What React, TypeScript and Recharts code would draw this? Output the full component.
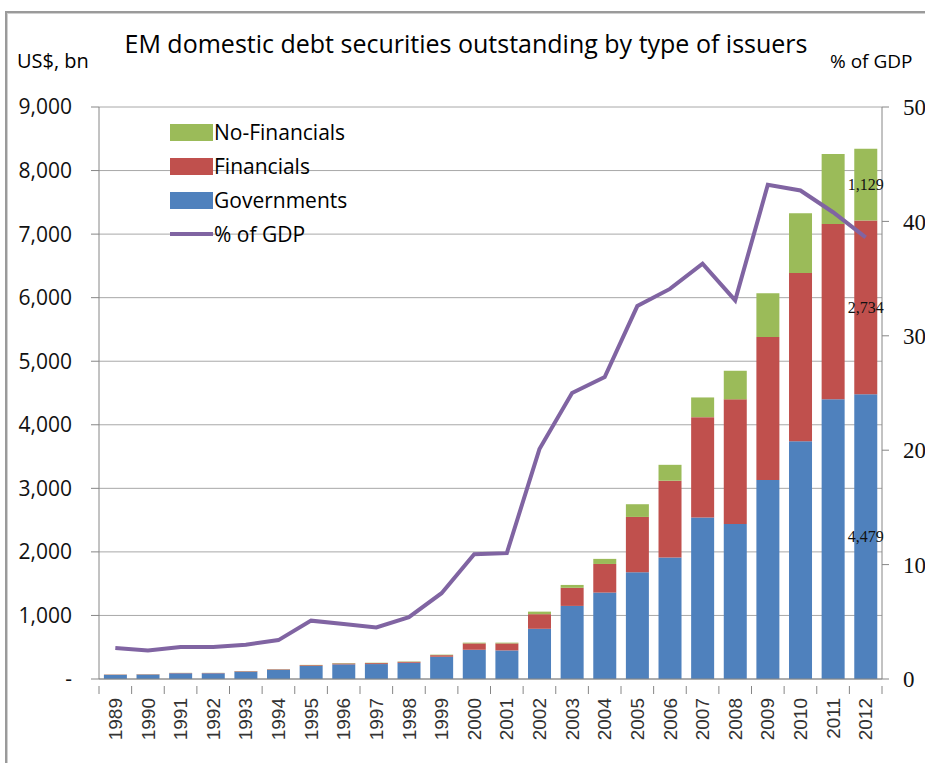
import React from 'react';
import {
  ComposedChart,
  Bar,
  Line,
  XAxis,
  YAxis,
  CartesianGrid,
  LabelList,
} from 'recharts';

// values (US$ bn and % of GDP)
const years = [
  '1989', '1990', '1991', '1992', '1993', '1994', '1995', '1996', '1997', '1998', '1999', '2000',
  '2001', '2002', '2003', '2004', '2005', '2006', '2007', '2008', '2009', '2010', '2011', '2012',
];
const governments = [
  65, 70, 90, 90, 115, 145, 205, 230, 235, 255, 350, 460,
  450, 790, 1150, 1360, 1680, 1910, 2540, 2440, 3130, 3740, 4400, 4479,
];
const financials = [
  5, 5, 5, 5, 8, 8, 12, 15, 15, 15, 25, 100,
  110, 230, 285, 450, 870, 1210, 1580, 1960, 2250, 2650, 2760, 2734,
];
const nonFinancials = [
  2, 2, 2, 2, 3, 3, 5, 6, 6, 6, 8, 12,
  12, 40, 45, 80, 200, 250, 310, 450, 690, 940, 1100, 1129,
];
const pctOfGdp = [
  2.7, 2.5, 2.8, 2.8, 3.0, 3.4, 5.1, 4.8, 4.5, 5.4, 7.5, 10.9,
  11.0, 20.1, 25.0, 26.4, 32.6, 34.1, 36.3, 33.1, 43.2, 42.7, 40.8, 38.6,
];
const leftTicks = [0, 1000, 2000, 3000, 4000, 5000, 6000, 7000, 8000, 9000];
const rightTicks = [0, 10, 20, 30, 40, 50];

const chartData = years.map((year, i) => ({
  year,
  gov: governments[i],
  fin: financials[i],
  nonfin: nonFinancials[i],
  pct: pctOfGdp[i],
}));

const BLUE = '#4f81bd';
const RED = '#c0504d';
const GREEN = '#9bbb59';
const PURPLE = '#8064a2';
const SANS = '"Open Sans", "Noto Sans", sans-serif';
const SERIF = '"Liberation Serif", "DejaVu Serif", serif';

const legendItems = [
  { label: 'No-Financials', color: GREEN, kind: 'box' },
  { label: 'Financials', color: RED, kind: 'box' },
  { label: 'Governments', color: BLUE, kind: 'box' },
  { label: '% of GDP', color: PURPLE, kind: 'line' },
];

const LegendBox = () => (
  <div style={{ fontFamily: SANS, fontSize: 21, color: '#000', lineHeight: '24px' }}>
    {legendItems.map((item) => (
      <div key={item.label} style={{ display: 'flex', alignItems: 'center', height: 34 }}>
        {item.kind === 'box' ? (
          <div style={{ width: 43, height: 17, background: item.color }} />
        ) : (
          <div style={{ width: 43, height: 4, background: item.color }} />
        )}
        <span style={{ marginLeft: 1 }}>{item.label}</span>
      </div>
    ))}
  </div>
);

const YearTick = (props: any) => {
  const { x, y, payload, index } = props;
  const half = payload.offset || 16.3;
  return (
    <g>
      <line x1={x + half} y1={y - 1} x2={x + half} y2={y + 7} stroke="#868686" />
      {index === 0 && <line x1={x - half} y1={y - 1} x2={x - half} y2={y + 7} stroke="#868686" />}
      <text
        transform={`translate(${x},${y + 11}) rotate(-90)`}
        textAnchor="end"
        dy="0.35em"
        fontFamily='"Liberation Sans", Arial, sans-serif'
        fontSize={19}
        fill="#333"
      >
        {payload.value}
      </text>
    </g>
  );
};

// only the last year carries data labels
const lastLabel = (props: any) => {
  const { x, y, width, height, value, index } = props;
  if (index !== years.length - 1) return null;
  return (
    <text
      x={x + width / 2}
      y={y + height / 2}
      textAnchor="middle"
      dominantBaseline="central"
      fontFamily={SERIF}
      fontSize={16}
      fill="#111"
    >
      {Number(value).toLocaleString('en-US')}
    </text>
  );
};

const App: React.FC = () => {
  return (
    <div
      style={{
        position: 'absolute',
        left: 0,
        top: 0,
        width: 925,
        height: 763,
        overflow: 'hidden',
        background: '#fff',
      }}
    >
      <div
        style={{
          position: 'absolute',
          left: 5,
          top: 11,
          width: 1000,
          height: 1000,
          border: '2px solid #9a9a9a',
          boxShadow: 'inset 1px 1px 0 #d0d0d0',
        }}
      />
      <div
        style={{
          position: 'absolute',
          left: 0,
          width: 932,
          top: 26,
          textAlign: 'center',
          fontFamily: SANS,
          fontSize: 25,
          color: '#000',
          whiteSpace: 'nowrap',
        }}
      >
        EM domestic debt securities outstanding by type of issuers
      </div>
      <div
        style={{ position: 'absolute', left: 17, top: 47, fontFamily: SANS, fontSize: 20, color: '#000' }}
      >
        US$, bn
      </div>
      <div
        style={{
          position: 'absolute',
          left: 830,
          top: 48,
          fontFamily: SANS,
          fontSize: 19,
          color: '#000',
          whiteSpace: 'nowrap',
        }}
      >
        % of GDP
      </div>
      <div style={{ position: 'absolute', left: 0, top: 0 }}>
        <ComposedChart
          width={960}
          height={763}
          data={chartData}
          margin={{ top: 107, right: 18, bottom: 0, left: 0 }}
          barCategoryGap="15%"
        >
          <CartesianGrid vertical={false} stroke="#a8a8a8" yAxisId="left" />
          <XAxis
            dataKey="year"
            interval={0}
            height={84}
            tickLine={false}
            axisLine={{ stroke: '#868686' }}
            tick={<YearTick />}
          />
          <YAxis
            yAxisId="left"
            width={99}
            domain={[0, 9000]}
            ticks={leftTicks}
            tickSize={8}
            tickMargin={19}
            axisLine={{ stroke: '#868686' }}
            tickLine={{ stroke: '#868686' }}
            tickFormatter={(v: number) => (v === 0 ? '-' : v.toLocaleString('en-US'))}
            tick={{ fontFamily: SANS, fontSize: 21, fill: '#111' }}
          />
          <YAxis
            yAxisId="right"
            orientation="right"
            width={60}
            domain={[0, 50]}
            ticks={rightTicks}
            tickSize={7}
            tickMargin={14}
            axisLine={{ stroke: '#868686' }}
            tickLine={{ stroke: '#868686' }}
            tick={{ fontFamily: SERIF, fontSize: 23, fill: '#111', textAnchor: 'start' }}
          />
          <Bar dataKey="gov" name="Governments" stackId="a" yAxisId="left" fill={BLUE} isAnimationActive={false}>
            <LabelList dataKey="gov" content={lastLabel} />
          </Bar>
          <Bar dataKey="fin" name="Financials" stackId="a" yAxisId="left" fill={RED} isAnimationActive={false}>
            <LabelList dataKey="fin" content={lastLabel} />
          </Bar>
          <Bar dataKey="nonfin" name="No-Financials" stackId="a" yAxisId="left" fill={GREEN} isAnimationActive={false}>
            <LabelList dataKey="nonfin" content={lastLabel} />
          </Bar>
          <Line
            dataKey="pct"
            name="% of GDP"
            yAxisId="right"
            type="linear"
            stroke={PURPLE}
            strokeWidth={4}
            dot={false}
            activeDot={false}
            isAnimationActive={false}
          />
        </ComposedChart>
      </div>
      <div style={{ position: 'absolute', left: 170, top: 115 }}>
        <LegendBox />
      </div>
    </div>
  );
};

export default App;
